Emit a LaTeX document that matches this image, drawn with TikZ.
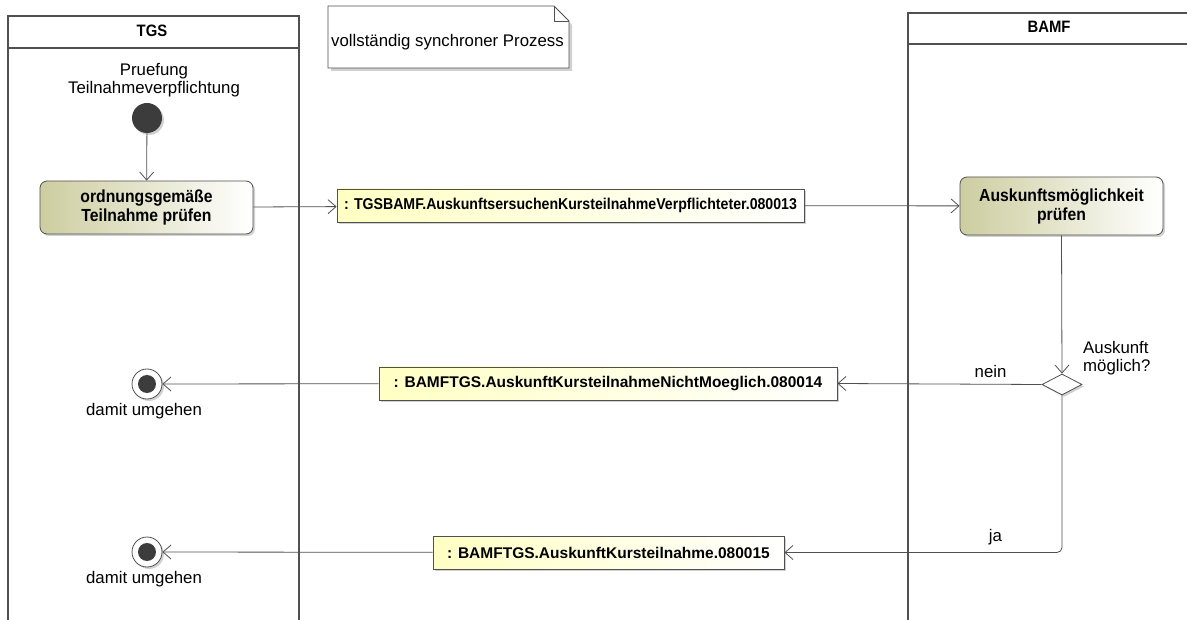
\documentclass[tikz,border=0pt]{standalone}
\usepackage{fontspec}
\setmainfont{Liberation Sans}
\newfontfamily\nbold[FakeStretch=0.9]{Liberation Sans Bold}
\newfontfamily\wbold{Liberation Sans Bold}
\usetikzlibrary{arrows.meta,shadows,shapes.geometric,calc}
\definecolor{ln}{RGB}{80,80,80}
\definecolor{actL}{RGB}{205,205,160}
\definecolor{objL}{RGB}{255,255,195}
\definecolor{dot}{RGB}{60,60,60}
\tikzset{
  lane/.style={draw=ln,line width=1.6pt},
  shad/.style={drop shadow={shadow xshift=2pt,shadow yshift=-2pt,fill=black!30,opacity=0.6}},
  action/.style={draw=ln,line width=0.8pt,rounded corners=7pt,left color=actL,right color=white,
     font=\nbold\fontsize{17.5}{19}\selectfont,align=center,shad,inner sep=0pt},
  objnode/.style={draw=ln,line width=0.8pt,left color=objL,right color=white,
     font=\nbold\fontsize{15.7}{18}\selectfont,shad,inner sep=0pt,minimum height=33pt},
  objwide/.style={objnode,font=\wbold\fontsize{15.5}{18}\selectfont},
  flow/.style={draw=ln,line width=0.8pt,-{Straight Barb[length=8pt,width=14pt,line width=0.8pt]}},
  plain/.style={draw=ln,line width=0.8pt},
  lbl/.style={font=\fontsize{16.8}{17.5}\selectfont,inner sep=0pt},
  hdr/.style={font=\nbold\fontsize{16.5}{18}\selectfont,inner sep=0pt},
}
\begin{document}
\begin{tikzpicture}[x=1pt,y=-1pt]
\useasboundingbox (0,0) rectangle (1187,620);
% lanes
\draw[lane] (8,625) -- (8,16) -- (299,16) -- (299,625);
\draw[lane] (8,48) -- (299,48);
\node[hdr] (tgs) at (152,31) {TGS};
\draw[lane] (908,625) -- (908,13) -- (1192,13);
\draw[lane] (908,44) -- (1192,44);
\node[hdr] (bamf) at (1049,27) {BAMF};
% note
\path[fill=black!30,opacity=0.6] (331,9) -- (556,9) -- (572,25) -- (572,71) -- (331,71) -- cycle;
\draw[plain,fill=white] (328,6) -- (554,6) -- (569,21) -- (569,68) -- (328,68) -- cycle;
\draw[plain] (554,6) -- (554,21) -- (569,21);
\node[lbl,anchor=west] (note) at (331,42) {vollständig synchroner Prozess};
% start
\node[lbl,align=center] (title) at (154,80) {Pruefung\\Teilnahmeverpflichtung};
\node[circle,fill=dot,minimum size=30pt,inner sep=0pt,shad] (start) at (147,118) {};
% actions
\node[action,minimum width=213pt,minimum height=53pt] (a1) at (146.5,207.5) {ordnungsgemäße\\Teilnahme prüfen};
\node[action,minimum width=203pt,minimum height=58pt] (a2) at (1061.5,206) {Auskunftsmöglichkeit\\prüfen};
% objects
\node[objnode,minimum width=467pt] (o1) at (570.5,205.5) {: TGSBAMF.AuskunftsersuchenKursteilnahmeVerpflichteter.080013};
\node[objwide,minimum width=458pt] (o2) at (608,383.5) {: BAMFTGS.AuskunftKursteilnahmeNichtMoeglich.080014};
\node[objwide,minimum width=351pt] (o3) at (608.5,552.5) {: BAMFTGS.AuskunftKursteilnahme.080015};
% decision
\node[diamond,draw=ln,line width=0.8pt,fill=white,minimum width=40pt,minimum height=21pt,inner sep=0pt,shad] (dec) at (1062,384.5) {};
\node[lbl,align=left,anchor=west] (declbl) at (1083,358) {Auskunft\\möglich?};
% finals
\node[circle,draw=ln,line width=0.8pt,fill=white,minimum size=30pt,inner sep=0pt,shad] (f1) at (147,384) {};
\node[circle,fill=dot,minimum size=18pt,inner sep=0pt] (f1i) at (f1) {};
\node[lbl] (f1l) at (144,411) {damit umgehen};
\node[circle,draw=ln,line width=0.8pt,fill=white,minimum size=30pt,inner sep=0pt,shad] (f2) at (147,552) {};
\node[circle,fill=dot,minimum size=18pt,inner sep=0pt] (f2i) at (f2) {};
\node[lbl] (f2l) at (144,579) {damit umgehen};
% flows
\draw[flow] (start) -- (a1);
\draw[flow] (a1) -- (o1);
\draw[flow] (o1) -- (a2);
\draw[flow] (a2.south) -- (dec.north);
\draw[flow] (dec.west) -- node[lbl,above=6pt,pos=0.25] {nein} (o2.east);
\draw[flow,rounded corners=5pt] (dec.south) |- node[lbl,above=7pt,pos=0.62] {ja} (o3.east);
\draw[flow] (o2) -- (f1);
\draw[flow] (o3) -- (f2);
\end{tikzpicture}
\end{document}
